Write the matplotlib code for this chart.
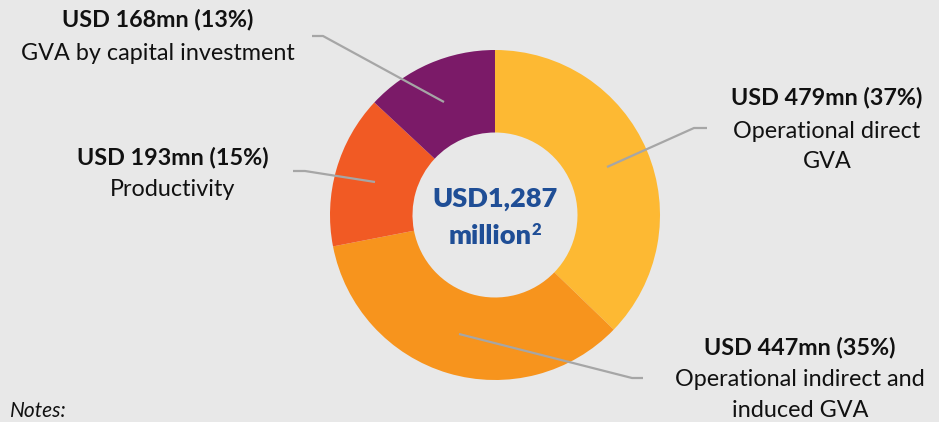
import matplotlib
matplotlib.use("Agg")
import matplotlib.pyplot as plt

# Contribution to GVA, USD million
categories = ["Operational direct GVA", "Operational indirect and induced GVA",
              "Productivity", "GVA by capital investment"]
values = [479, 447, 193, 168]
shares = [37, 35, 15, 13]
total_label = ["USD1,287", "million", "2"]
colors = ["#FDB933", "#F7941D", "#F15A24", "#7B1A68"]

W, H = 939, 422
BG = "#E8E8E8"
BLUE = "#1F4E96"
plt.rcParams["font.family"] = ["Lato", "DejaVu Sans"]

fig = plt.figure(figsize=(W / 100, H / 100), dpi=100, facecolor=BG)
ax = fig.add_axes([0, 0, 1, 1])
ax.set_facecolor(BG)

cx, cy, r = 495, H - 215, 165
ax.pie(values, colors=colors, startangle=90, counterclock=False,
       center=(cx, cy), radius=r, frame=True,
       wedgeprops=dict(width=r * 0.5, linewidth=0))
ax.set_xlim(0, W)
ax.set_ylim(0, H)
ax.set_aspect("equal")
ax.axis("off")

# centre total
ax.text(cx, H - 199, total_label[0], ha="center", va="center",
        fontsize=19.5, fontweight="heavy", color=BLUE)
t = ax.text(cx - 5, H - 236, total_label[1], ha="center", va="center",
            fontsize=19.5, fontweight="heavy", color=BLUE)
ax.annotate(total_label[2], xy=(1.0, 0.76), xycoords=t, xytext=(0, 0),
            textcoords="offset points", ha="left", va="center",
            fontsize=12, fontweight="heavy", color=BLUE)

# leader lines (pixel coordinates from top-left)
leaders = [
    [(607, 167), (694, 128), (707, 128)],
    [(459, 334), (632, 378), (643, 378)],
    [(375, 182), (305, 171), (293, 171)],
    [(444, 102), (323, 36), (312, 36)],
]
for pts in leaders:
    xs = [p[0] for p in pts]
    ys = [H - p[1] for p in pts]
    ax.plot(xs, ys, color="#A6A6A6", lw=1.6, solid_capstyle="butt")

fs = 16.8
label_pos = [
    (827, 98, ["Operational direct", "GVA"]),
    (800, 347, ["Operational indirect and", "induced GVA"]),
    (173, 157, ["Productivity"]),
    (158, 20, ["GVA by capital investment"]),
]
for (x, y, lines), v, s in zip(label_pos, values, shares):
    ax.text(x, H - y, f"USD {v}mn ({s}%)", ha="center", va="center",
            fontsize=fs, fontweight="bold", color="#111111")
    for i, ln in enumerate(lines):
        ax.text(x, H - y - 33 - 30.5 * i, ln, ha="center", va="center",
                fontsize=fs, color="#111111")

ax.text(10, H - 411, "Notes:", ha="left", va="center", fontsize=15,
        fontstyle="italic", color="#111111")

fig.savefig("out.png", dpi=100, facecolor=BG)
